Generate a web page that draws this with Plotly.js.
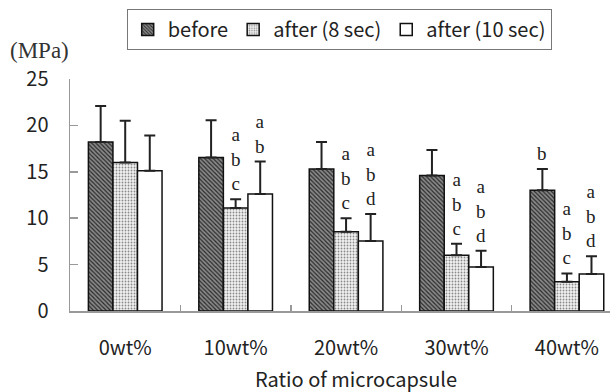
<!DOCTYPE html>
<html>
<head>
<meta charset="utf-8">
<script src="https://cdn.plot.ly/plotly-3.0.1.min.js"></script>
<style>html,body{margin:0;padding:0;background:#fff;}#chart{width:610px;height:392px;}</style>
</head>
<body>
<div id="chart"></div>
<script>
// Data
const categories = ['0wt%', '10wt%', '20wt%', '30wt%', '40wt%'];
const seriesNames = ['before', 'after (8 sec)', 'after (10 sec)'];
const before = [18.2, 16.55, 15.3, 14.6, 13.0];
const after8 = [16.0, 11.1, 8.55, 6.0, 3.15];
const after10 = [15.1, 12.6, 7.55, 4.75, 4.0];
const errBefore = [3.9, 4.0, 2.9, 2.75, 2.3];
const errAfter8 = [4.5, 0.95, 1.45, 1.25, 0.9];
const errAfter10 = [3.8, 3.5, 2.9, 1.75, 1.9];
const lettersBefore = ['', '', '', '', 'b'];
const lettersAfter8 = ['', 'abc', 'abc', 'abc', 'abc'];
const lettersAfter10 = ['', 'ab', 'abd', 'abd', 'abd'];
const yTicks = [0, 5, 10, 15, 20, 25];

const sansFont = '"Noto Sans CJK JP", "DejaVu Sans", sans-serif';
const serifFont = '"Liberation Serif", "DejaVu Serif", serif';
const bargap = 0.333;

const values = [before, after8, after10];
const errors = [errBefore, errAfter8, errAfter10];
const letters = [lettersBefore, lettersAfter8, lettersAfter10];
const patterns = [
  {shape: '\\', bgcolor: '#8a8a8a', fgcolor: '#2a2a2a', size: 3, solidity: 0.4},
  {shape: '.', bgcolor: '#f2f2f2', fgcolor: '#8a8a8a', size: 3, solidity: 0.3},
  {shape: '', bgcolor: '#ffffff', fgcolor: '#ffffff'}
];
const fills = ['#6a6a6a', '#e6e6e6', '#ffffff'];

const traces = values.map((v, j) => ({
  type: 'bar',
  name: seriesNames[j],
  x: categories,
  y: v,
  marker: {
    color: fills[j],
    line: {color: '#111', width: 1.5},
    pattern: patterns[j]
  },
  error_y: {
    type: 'data', symmetric: false,
    array: errors[j],
    arrayminus: v.map(() => 0),
    color: '#222', thickness: 2, width: 5.5
  }
}));

const annotations = [];
letters.forEach((arr, j) => {
  arr.forEach((s, i) => {
    if (!s) return;
    annotations.push({
      xref: 'x', yref: 'y',
      x: i + (j - 1) * (1 - bargap) / 3,
      y: values[j][i] + errors[j][i],
      yanchor: 'bottom', xanchor: 'center',
      yshift: 3,
      showarrow: false,
      align: 'center',
      text: s.split('').join('<br>'),
      font: {family: serifFont, size: 19, color: '#222'}
    });
  });
});
annotations.push({
  xref: 'paper', yref: 'paper', x: -0.115, y: 1.125,
  xanchor: 'left', yanchor: 'middle', showarrow: false,
  text: '(MPa)', font: {family: serifFont, size: 23, color: '#333'}
});
annotations.push({
  xref: 'paper', yref: 'paper', x: (356 - 70) / 540, y: -(378 - 311) / 232,
  xanchor: 'center', yanchor: 'middle', showarrow: false,
  text: 'Ratio of microcapsule', font: {family: sansFont, size: 20, color: '#222'}
});

const layout = {
  width: 610, height: 392,
  margin: {l: 70, r: 0, t: 79, b: 81, pad: 0},
  paper_bgcolor: '#fff', plot_bgcolor: '#fff',
  barmode: 'group', bargap: bargap, bargroupgap: 0,
  showlegend: true,
  legend: {
    orientation: 'h', x: 0.105, y: 1.302, xanchor: 'left', yanchor: 'top',
    bordercolor: '#777', borderwidth: 1, bgcolor: '#fff',
    font: {family: sansFont, size: 20, color: '#222'},
    traceorder: 'normal', itemwidth: 30
  },
  xaxis: {
    type: 'category', range: [-0.5, 4.39],
    showline: true, linecolor: '#999', linewidth: 1.5,
    ticks: 'inside', tickson: 'boundaries', ticklen: 6, tickcolor: '#999', tickwidth: 1.5,
    showgrid: false, zeroline: false,
    ticklabelstandoff: 18,
    tickfont: {family: sansFont, size: 20, color: '#222'}
  },
  yaxis: {
    range: [0, 25], tickvals: yTicks,
    showline: true, linecolor: '#999', linewidth: 1.5,
    ticks: 'inside', ticklen: 8, tickcolor: '#999', tickwidth: 1.5,
    showgrid: false, zeroline: false,
    ticklabelstandoff: 16,
    tickfont: {family: sansFont, size: 20, color: '#222'}
  },
  annotations: annotations
};

Plotly.newPlot('chart', traces, layout, {staticPlot: true, displayModeBar: false});
</script>
</body>
</html>
